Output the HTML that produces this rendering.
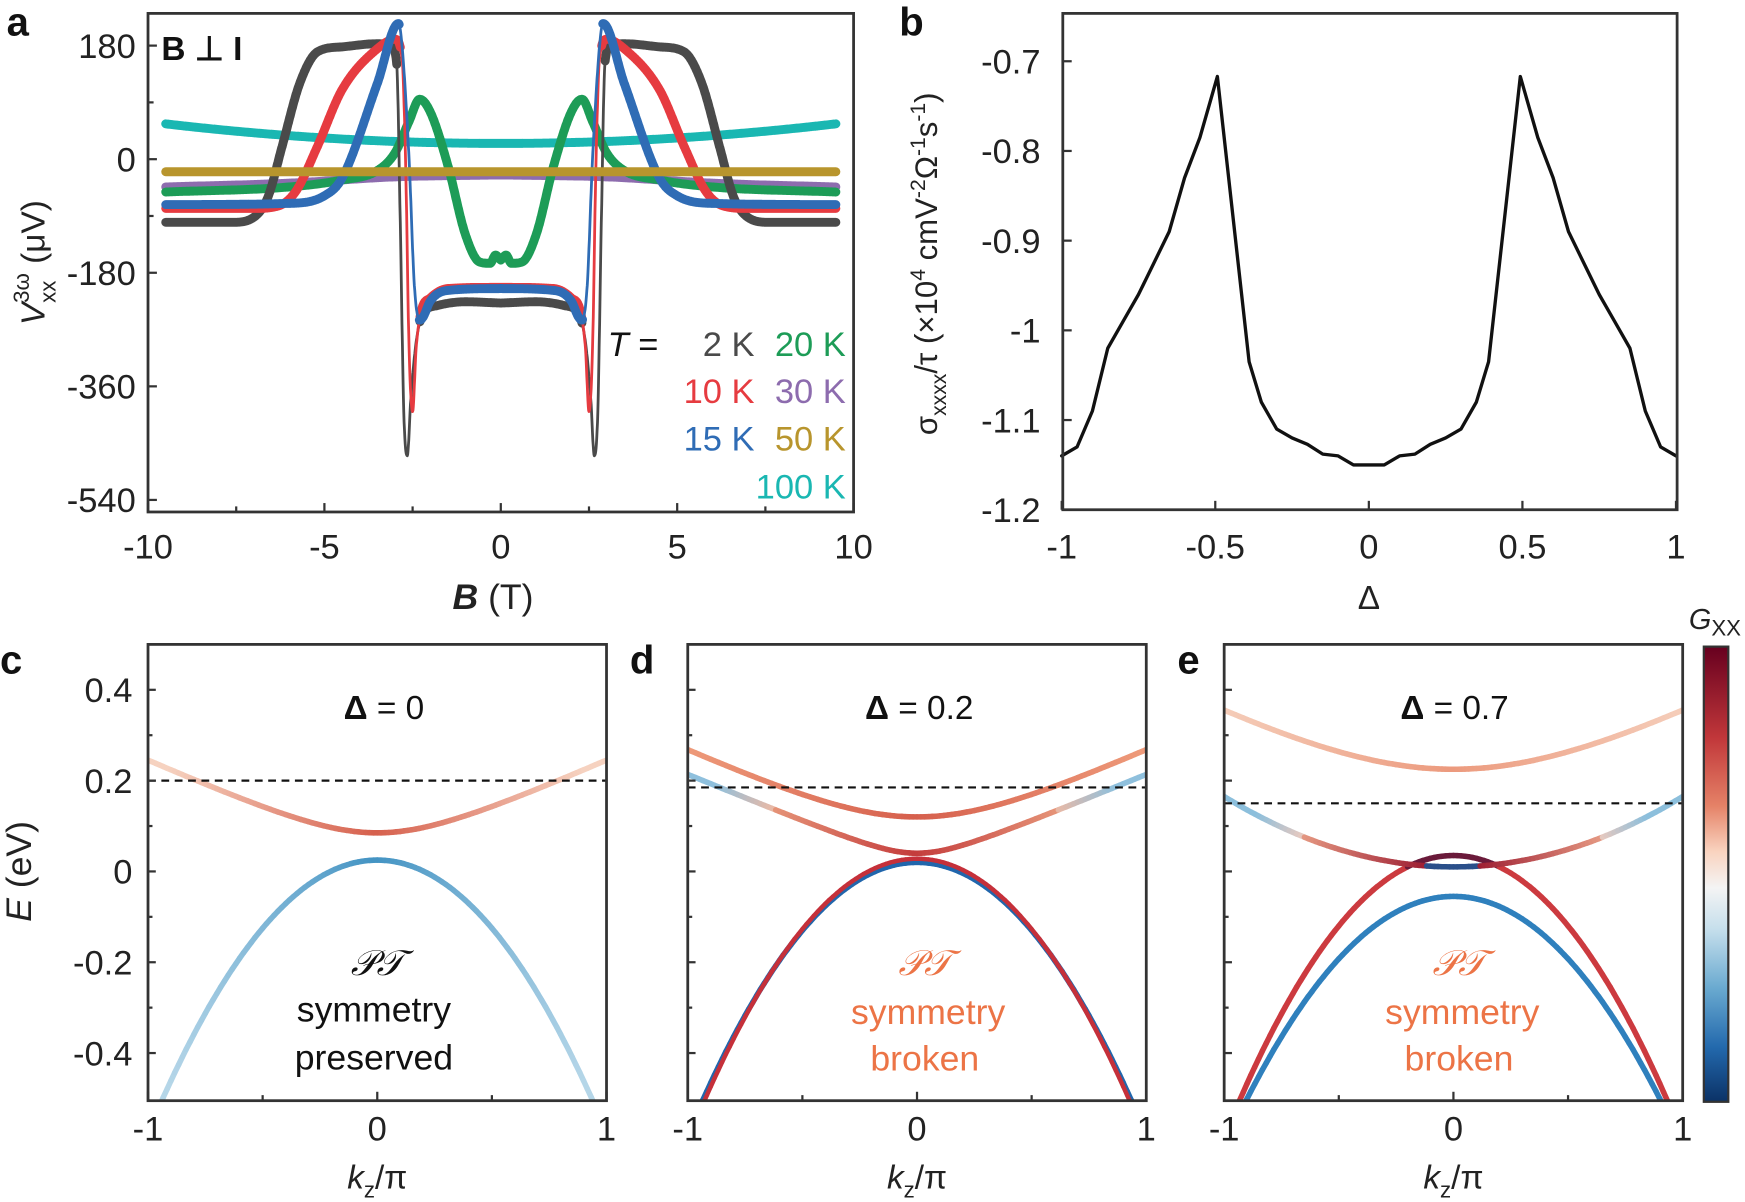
<!DOCTYPE html><html><head><meta charset="utf-8"><style>
html,body{margin:0;padding:0;background:#fff}
svg{display:block}
text{font-family:"Liberation Sans",Arial,sans-serif}
</style></head><body>
<svg id="s" width="1745" height="1202" viewBox="0 0 1568 1080" xmlns="http://www.w3.org/2000/svg">
<defs>
<linearGradient id="cb" x1="0" y1="0" x2="0" y2="1">
<stop offset="0" stop-color="#67001f"/><stop offset="0.2" stop-color="#c1373a"/><stop offset="0.35" stop-color="#e58267"/><stop offset="0.45" stop-color="#f9d3bf"/><stop offset="0.53" stop-color="#f4f4f4"/><stop offset="0.62" stop-color="#c6dfec"/><stop offset="0.75" stop-color="#6aaad0"/><stop offset="0.88" stop-color="#2369ad"/><stop offset="1" stop-color="#0b3266"/>
</linearGradient>
</defs>
<g id="g"></g>
</svg>
<script>
const g=document.getElementById('g');let h='';
const K='#333';
function P(pts,stroke,w,extra){return `<path d="M${pts.map(p=>p[0].toFixed(1)+','+p[1].toFixed(1)).join('L')}" fill="none" stroke="${stroke}" stroke-width="${w}" stroke-linejoin="round" stroke-linecap="round" ${extra||''}/>`;}
function T(x,y,s,sz,anc,fill,extra){return `<text x="${x}" y="${y}" font-size="${sz}" text-anchor="${anc||'middle'}" fill="${fill||'#222'}" ${extra||''}>${s}</text>`;}
// monotone cubic interpolation
function mono(tab){const n=tab.length,xs=tab.map(p=>p[0]),ys=tab.map(p=>p[1]);const d=[],m=[];
 for(let i=0;i<n-1;i++)d.push((ys[i+1]-ys[i])/(xs[i+1]-xs[i]));
 m[0]=d[0];m[n-1]=d[n-2];for(let i=1;i<n-1;i++){m[i]=(d[i-1]*d[i]<=0)?0:(d[i-1]+d[i])/2;}
 for(let i=0;i<n-1;i++){if(d[i]===0){m[i]=0;m[i+1]=0;continue;}const a=m[i]/d[i],b=m[i+1]/d[i],s=a*a+b*b;if(s>9){const t=3/Math.sqrt(s);m[i]=t*a*d[i];m[i+1]=t*b*d[i];}}
 return x=>{x=Math.abs(x);let i=0;while(i<n-2&&x>xs[i+1])i++;const hh=xs[i+1]-xs[i],t=Math.min(1,Math.max(0,(x-xs[i])/hh));const t2=t*t,t3=t2*t;
  return (2*t3-3*t2+1)*ys[i]+(t3-2*t2+t)*hh*m[i]+(-2*t3+3*t2)*ys[i+1]+(t3-t2)*hh*m[i+1];};}
// ===== Panel a =====
const ax=b=>450+b*31.7, ay=v=>143-v*0.567;
const curves=[
['#1ab7b2',null,b=>25+31*(b/9.5)**2],
['#8d6cae',[[0,-25],[3,-28],[6,-38],[9.5,-44]]],
['#1d9c57',[[0,-160],[0.15,-152],[0.3,-165],[0.6,-163],[1.0,-120],[1.5,-10],[2.0,75],[2.3,95],[2.6,60],[3.0,10],[3.5,-18],[4.5,-33],[6,-44],[9.5,-52]]],
['#4a4a4a',[[0,-228],[1,-226],[1.8,-232],[2.2,-245],[2.4,-290],[2.55,-380],[2.65,-470],[2.75,-400],[2.85,-100],[2.95,150],[3.1,180],[3.5,183],[4.5,178],[5.2,170],[5.7,120],[6.2,20],[6.6,-60],[7,-92],[7.6,-100],[9.5,-100]],2.3,2.95],
['#e63b40',[[0,-203],[1.5,-205],[2.0,-220],[2.25,-240],[2.4,-300],[2.5,-400],[2.6,-300],[2.7,0],[2.8,160],[3.0,190],[3.5,175],[4.5,110],[5.2,20],[5.8,-50],[6.3,-74],[7,-78],[9.5,-78]],2.3,2.85],
['#2f6cb5',[[0,-205],[1.5,-208],[2.0,-225],[2.2,-250],[2.3,-255],[2.45,-200],[2.6,0],[2.8,180],[2.9,215],[3.5,120],[4.5,-30],[5.0,-58],[6,-70],[9.5,-72]],2.32,2.88],
['#b8952d',[[0,-20],[9.5,-20]]],
];
for(const c of curves){
  const f=typeof c[2]==='function'?c[2]:mono(c[1]);
  const all=[],segs=[[]];
  for(let b=-9.5;b<=9.5001;b+=0.01){all.push([ax(b),ay(f(b))]);
    const thin=c[2]&&typeof c[2]!=='function'&&Math.abs(b)>c[2]&&Math.abs(b)<c[3];
    if(thin){if(segs[segs.length-1].length)segs.push([]);}else segs[segs.length-1].push([ax(b),ay(f(b))]);}
  h+=P(all,c[0],2.5);
  for(const s of segs) if(s.length>1)h+=P(s,c[0],8);
}
h+=`<rect x="133" y="12" width="634" height="448" fill="none" stroke="${K}" stroke-width="2.5"/>`;
[[180,'180'],[0,'0'],[-180,'-180'],[-360,'-360'],[-540,'-540']].forEach(([v,l])=>{const y=ay(v);h+=`<line x1="133" x2="141" y1="${y}" y2="${y}" stroke="${K}" stroke-width="2"/>`+T(122,y+11,l,31,'end');});
[-90,90,270,450].forEach(v=>{const y=ay(v);if(y>12&&y<460)h+=`<line x1="133" x2="138" y1="${y}" y2="${y}" stroke="${K}" stroke-width="2"/>`;});
[-10,-5,0,5,10].forEach(b=>{const x=ax(b);h+=`<line x1="${x}" x2="${x}" y1="460" y2="452" stroke="${K}" stroke-width="2"/>`+T(x,502,b,31);});
[-7.5,-2.5,2.5,7.5].forEach(b=>{const x=ax(b);h+=`<line x1="${x}" x2="${x}" y1="460" y2="455" stroke="${K}" stroke-width="2"/>`;});
h+=T(443,547,'<tspan font-weight="bold" font-style="italic">B</tspan> (T)',32);
h+=`<text transform="translate(40,236) rotate(-90)" font-size="30" text-anchor="middle" fill="#222"><tspan font-style="italic">V</tspan><tspan font-size="20" dy="10">xx</tspan><tspan font-size="20" dy="-24" dx="-20">3ω</tspan><tspan dy="14"> (μV)</tspan></text>`;
h+=T(145,54,'B ⊥ I',30,'start','#111','font-weight="bold"');
h+=T(546,320,'<tspan font-style="italic">T</tspan> =',31,'start','#111');
h+=T(678,320,'2 K',31,'end','#4a4a4a')+T(760,320,'20 K',31,'end','#1d9c57');
h+=T(678,362,'10 K',31,'end','#e63b40')+T(760,362,'30 K',31,'end','#8d6cae');
h+=T(678,405,'15 K',31,'end','#2f6cb5')+T(760,405,'50 K',31,'end','#b8952d');
h+=T(760,448,'100 K',31,'end','#1ab7b2');
// ===== Panel b =====
const bx=d=>1230+d*276, by=v=>55+(-0.7-v)*806;
const bt=[[0,-1.15],[0.05,-1.15],[0.1,-1.14],[0.15,-1.138],[0.2,-1.127],[0.25,-1.12],[0.3,-1.11],[0.35,-1.08],[0.39,-1.035],[0.493,-0.717],[0.55,-0.785],[0.6,-0.83],[0.65,-0.89],[0.7,-0.925],[0.75,-0.96],[0.8,-0.99],[0.85,-1.02],[0.9,-1.09],[0.95,-1.13],[1,-1.14]];
let bp=[];bt.slice().reverse().forEach(p=>bp.push([bx(-p[0]),by(p[1])]));bt.slice(1).forEach(p=>bp.push([bx(p[0]),by(p[1])]));
h+=P(bp,'#111',3);
h+=`<rect x="955" y="12" width="552" height="446" fill="none" stroke="${K}" stroke-width="2.5"/>`;
[-0.7,-0.8,-0.9,-1,-1.1,-1.2].forEach(v=>{const y=by(v);h+=`<line x1="955" x2="963" y1="${y}" y2="${y}" stroke="${K}" stroke-width="2"/>`+T(935,y+11,String(v),31,'end');});
[-1,-0.5,0,0.5,1].forEach(d=>{const x=bx(d);h+=`<line x1="${x}" x2="${x}" y1="458" y2="450" stroke="${K}" stroke-width="2"/>`+T(x,502,d,31);});
h+=T(1230,547,'Δ',30);
h+=`<text transform="translate(842,237) rotate(-90)" font-size="28" text-anchor="middle" fill="#222">σ<tspan font-size="19" dy="8">xxxx</tspan><tspan dy="-8">/τ (×10</tspan><tspan font-size="19" dy="-11">4</tspan><tspan dy="11"> cmV</tspan><tspan font-size="19" dy="-11">-2</tspan><tspan dy="11">Ω</tspan><tspan font-size="19" dy="-11">-1</tspan><tspan dy="11">s</tspan><tspan font-size="19" dy="-11">-1</tspan><tspan dy="11">)</tspan></text>`;
// ===== Bottom panels =====
const ey=E=>783-408*E;
function band(x0,f,colf,w,k0,k1){w=w||5;k0=k0??-1;k1=k1??1;let s='';const n=120;for(let i=0;i<n;i++){const a=k0+(k1-k0)*i/n,b=k0+(k1-k0)*(i+1)/n;const ya=f(a),yb=f(b);if(ya<-0.52&&yb<-0.52)continue;s+=`<line x1="${(x0+a*206).toFixed(1)}" y1="${ey(ya).toFixed(1)}" x2="${(x0+b*206).toFixed(1)}" y2="${ey(yb).toFixed(1)}" stroke="${colf((a+b)/2)}" stroke-width="${w}" stroke-linecap="round"/>`;}return s;}
function mix(c1,c2,t){t=Math.max(0,Math.min(1,t));const a=c1.match(/\w\w/g).map(x=>parseInt(x,16)),b=c2.match(/\w\w/g).map(x=>parseInt(x,16));return 'rgb('+a.map((v,i)=>Math.round(v+(b[i]-v)*t)).join(',')+')';}
function frame(x0,labels){const L=x0-206;let s=`<rect x="${L}" y="579" width="412" height="410" fill="none" stroke="${K}" stroke-width="2.5"/>`;
 [0.4,0.2,0,-0.2,-0.4].forEach(E=>{const y=ey(E);s+=`<line x1="${L}" x2="${L+7}" y1="${y}" y2="${y}" stroke="${K}" stroke-width="2"/>`;if(labels)s+=T(L-14,y+11,String(E),31,'end');});
 [0.3,0.1,-0.1,-0.3].forEach(E=>{const y=ey(E);s+=`<line x1="${L}" x2="${L+4}" y1="${y}" y2="${y}" stroke="${K}" stroke-width="2"/>`;});
 [-1,0,1].forEach(k=>{const x=x0+k*206;s+=`<line x1="${x}" x2="${x}" y1="989" y2="981" stroke="${K}" stroke-width="2"/>`+T(x,1025,k,31);});
 [-0.5,0.5].forEach(k=>{const x=x0+k*206;s+=`<line x1="${x}" x2="${x}" y1="989" y2="984" stroke="${K}" stroke-width="2"/>`;});
 s+=T(x0,1068,'<tspan font-style="italic">k</tspan><tspan font-size="20" dy="8">z</tspan><tspan dy="-8">/π</tspan>',30);return s;}
function clip(x0){return `<clipPath id="c${x0}"><rect x="${x0-206}" y="579" width="412" height="410"/></clipPath>`;}
h+=`<defs>${clip(339)}${clip(824)}${clip(1306)}</defs>`;
function dash(x0,E){return `<line x1="${x0-206}" x2="${x0+206}" y1="${ey(E)}" y2="${ey(E)}" stroke="#111" stroke-width="2" stroke-dasharray="7,5"/>`;}
// c
let c='';
c+=band(339,k=>Math.sqrt(0.085**2+(0.23*k)**2),k=>mix('d6604d','f6d2c0',Math.abs(k)*1.1));
c+=band(339,k=>0.025-0.6*k*k,k=>mix('4393c3','b5d6e8',Math.abs(k)*1.1));
h+=`<g clip-path="url(#c339)">${c}</g>`+dash(339,0.2);
h+=frame(339,true);
h+=T(345,646,'<tspan font-weight="bold">Δ</tspan> = 0',30,'middle','#111');
h+=T(339,876,'𝒫𝒯',32,'middle','#111','font-family="DejaVu Serif,serif" font-style="italic"')+T(336,918,'symmetry',32,'middle','#111')+T(336,961,'preserved',32,'middle','#111');
h+=`<text transform="translate(28,783) rotate(-90)" font-size="32" text-anchor="middle" fill="#222"><tspan font-style="italic">E</tspan> (eV)</text>`;
// d
c='';
c+=band(824,k=>Math.sqrt(0.12**2+(0.24*k)**2),k=>mix('d6604d','ee9a7a',Math.abs(k)));
c+=band(824,k=>Math.sqrt(0.04**2+(0.21*k)**2),k=>Math.abs(k)>0.62?mix('e9b9a6','8fc0dd',(Math.abs(k)-0.62)*4):mix('c43c3c','e89a7c',Math.abs(k)*1.5));
c+=band(824,k=>0.02-0.6*k*k,k=>'#2166ac',5);
c+=band(824,k=>0.028-0.62*k*k,k=>'#c5303a',4);
h+=`<g clip-path="url(#c824)">${c}</g>`+dash(824,0.185);
h+=frame(824,false);
h+=T(826,646,'<tspan font-weight="bold">Δ</tspan> = 0.2',30,'middle','#111');
const OR='#ec7446';
h+=T(831,876,'𝒫𝒯',32,'middle',OR,'font-family="DejaVu Serif,serif" font-style="italic"')+T(834,920,'symmetry',32,'middle',OR)+T(831,962,'broken',32,'middle',OR);
// e
c='';
c+=band(1306,k=>Math.sqrt(0.225**2+(0.275*k)**2),k=>mix('ec9a7e','f5cdb9',Math.abs(k)));
c+=band(1306,k=>0.035-0.62*k*k,k=>Math.abs(k)<0.2?'#6a1a3a':'#cc3a3f',5);
c+=band(1306,k=>-0.055-0.55*k*k,k=>'#2f80bd',5);
c+=band(1306,k=>0.01+0.155*k*k,k=>Math.abs(k)<0.12?'#2a4f8a':Math.abs(k)>0.65?mix('e8c9bf','8cbfdc',(Math.abs(k)-0.65)*5):mix('9e1f33','e89d85',(Math.abs(k)-0.12)*1.8),5);
h+=`<g clip-path="url(#c1306)">${c}</g>`+dash(1306,0.15);
h+=frame(1306,false);
h+=T(1307,646,'<tspan font-weight="bold">Δ</tspan> = 0.7',30,'middle','#111');
h+=T(1311,876,'𝒫𝒯',32,'middle',OR,'font-family="DejaVu Serif,serif" font-style="italic"')+T(1314,920,'symmetry',32,'middle',OR)+T(1311,962,'broken',32,'middle',OR);
// colorbar
h+=`<rect x="1531" y="581" width="22" height="409" fill="url(#cb)" stroke="${K}" stroke-width="2"/>`;
h+=T(1541,565,'<tspan font-style="italic">G</tspan><tspan font-size="20" dy="6">XX</tspan>',26,'middle','#222');
// panel letters
h+=T(6,32,'a',36,'start','#111','font-weight="bold"')+T(808,32,'b',36,'start','#111','font-weight="bold"');
h+=T(0,605,'c',36,'start','#111','font-weight="bold"')+T(566,605,'d',36,'start','#111','font-weight="bold"')+T(1058,605,'e',36,'start','#111','font-weight="bold"');
g.innerHTML=h;
</script>
</body></html>
